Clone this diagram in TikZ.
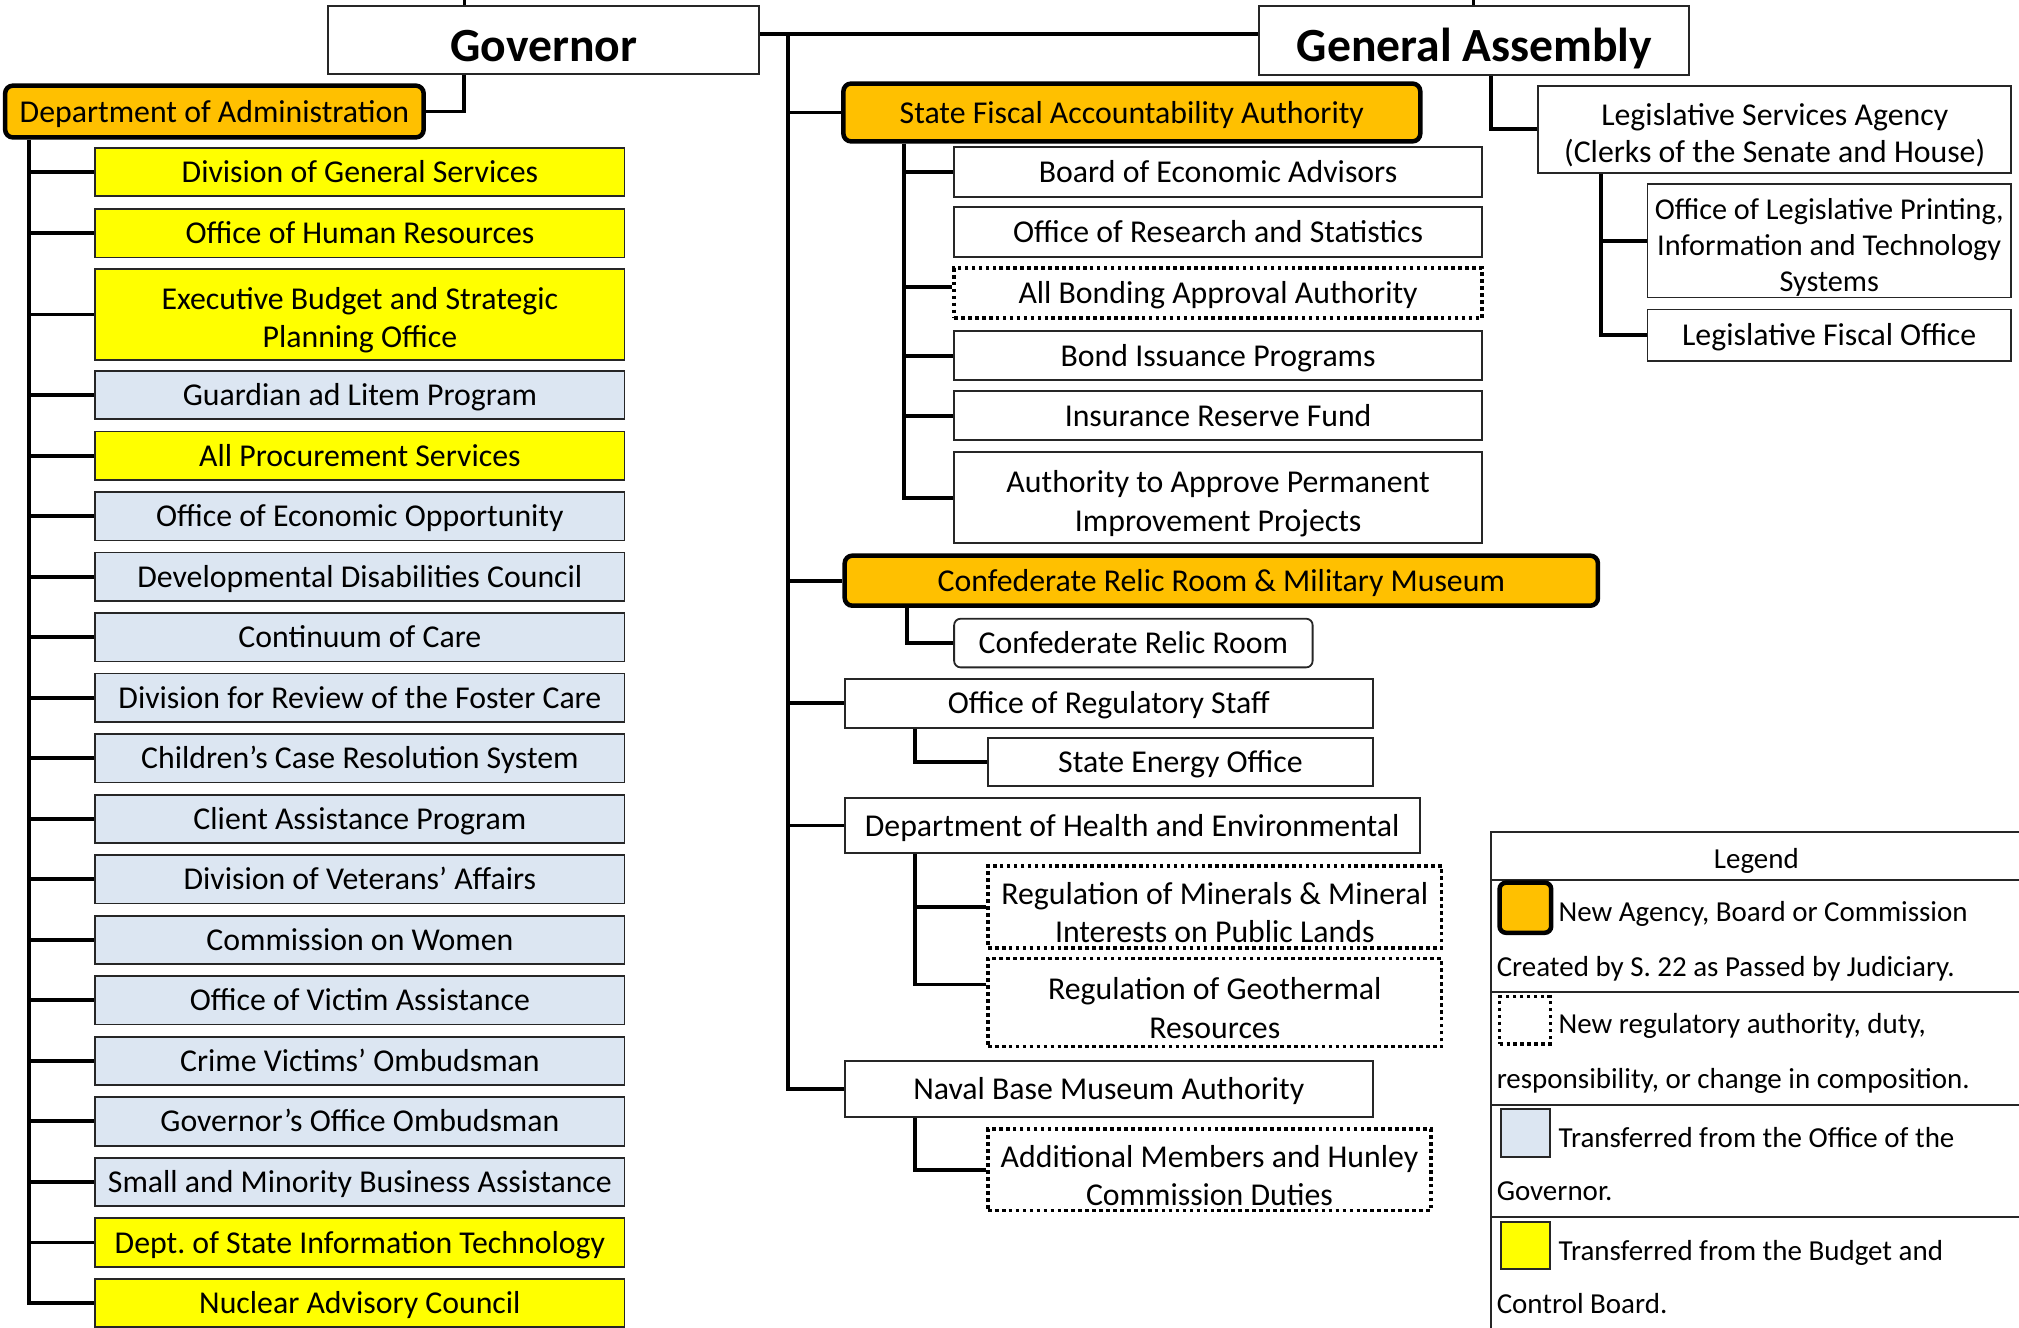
\documentclass[tikz,border=0pt]{standalone}
\usepackage{fontspec}
\setmainfont{Carlito}
\definecolor{org}{HTML}{FFC000}
\definecolor{yel}{HTML}{FFFF00}
\definecolor{blu}{HTML}{DCE6F2}
\newcommand\obox[7]{\node[#6, minimum width={#4-#2}, minimum height={#5-#3}] (#1) at ({(#2+#4)/2},{(#3+#5)/2}) {#7};}
\newcommand\dn{\rule{0pt}{26pt}}
\tikzset{
 box/.style={draw=black!85, line width=1.4pt, inner sep=0pt, align=center, text=black, font=\fontsize{24.7pt}{30pt}\selectfont},
 sl/.style={text height=18pt, text depth=1.6pt},
 newbox/.style={box, draw=black, fill=org, line width=3.5pt, rounded corners=6pt},
 dotbox/.style={box, draw=black, line width=2.8pt, dash pattern=on 2.8pt off 2.6pt},
 ybox/.style={box, fill=yel},
 bbox/.style={box, fill=blu},
 wbox/.style={box, fill=white},
 ttl/.style={box, fill=white, font=\fontsize{37pt}{44pt}\selectfont\bfseries, text height=36pt, text depth=3pt},
 conn/.style={line width=3pt, draw=black},
 stub/.style={line width=2.4pt, draw=black},
 legline/.style={line width=1.5pt, draw=black!85},
 legtxt/.style={anchor=base west, inner sep=0pt, font=\fontsize{22.5pt}{27pt}\selectfont},
}
\begin{document}
\begin{tikzpicture}[x=1pt,y=-1pt]
\useasboundingbox (0,0) rectangle (1568,1031);
% top boxes
\obox{gov}{255}{4.7}{589.6}{57.7}{ttl}{Governor}
\obox{ga}{978}{4.7}{1312}{58.5}{ttl}{General Assembly}
% left column
\obox{doa}{4}{66.5}{329}{106.7}{newbox,sl}{Department of Administration}
\obox{l1}{74}{114.7}{485}{152.5}{ybox,sl}{Division of General Services}
\obox{l2}{74}{162}{485}{200}{ybox,sl}{Office of Human Resources}
\obox{l3}{74}{209.2}{485}{279.3}{ybox}{\dn Executive Budget and Strategic\\Planning Office}
\obox{l4}{74}{288.1}{485}{325.7}{bbox,sl}{Guardian ad Litem Program}
\obox{l5}{74}{335.1}{485}{372.7}{ybox,sl}{All Procurement Services}
\obox{l6}{74}{382.1}{485}{419.7}{bbox,sl}{Office of Economic Opportunity}
\obox{l7}{74}{429.1}{485}{466.7}{bbox,sl}{Developmental Disabilities Council}
\obox{l8}{74}{476.1}{485}{513.7}{bbox,sl}{Continuum of Care}
\obox{l9}{74}{523.1}{485}{560.7}{bbox,sl}{Division for Review of the Foster Care}
\obox{l10}{74}{570.1}{485}{607.7}{bbox,sl}{Children’s Case Resolution System}
\obox{l11}{74}{617.1}{485}{654.7}{bbox,sl}{Client Assistance Program}
\obox{l12}{74}{664.1}{485}{701.7}{bbox,sl}{Division of Veterans’ Affairs}
\obox{l13}{74}{711.1}{485}{748.7}{bbox,sl}{Commission on Women}
\obox{l14}{74}{758.1}{485}{795.7}{bbox,sl}{Office of Victim Assistance}
\obox{l15}{74}{805.1}{485}{842.7}{bbox,sl}{Crime Victims’ Ombudsman}
\obox{l16}{74}{852.1}{485}{889.7}{bbox,sl}{Governor’s Office Ombudsman}
\obox{l17}{74}{899.1}{485}{936.7}{bbox,sl}{Small and Minority Business Assistance}
\obox{l18}{74}{946.1}{485}{983.7}{ybox,sl}{Dept.\ of State Information Technology}
\obox{l19}{74}{993.1}{485}{1030.7}{ybox,sl}{Nuclear Advisory Council}
% middle column
\obox{sfaa}{655}{64.9}{1103}{109.8}{newbox,sl}{State Fiscal Accountability Authority}
\obox{boa}{741}{114.3}{1151}{152.8}{wbox,sl}{Board of Economic Advisors}
\obox{ors}{741}{160.8}{1151}{199.4}{wbox,sl}{Office of Research and Statistics}
\obox{bond}{741}{208.3}{1151}{247.1}{dotbox,sl}{All Bonding Approval Authority}
\obox{bip}{741}{257.3}{1151}{295.1}{wbox,sl}{Bond Issuance Programs}
\obox{irf}{741}{303.7}{1151}{341.9}{wbox,sl}{Insurance Reserve Fund}
\obox{auth}{741}{351.3}{1151}{422}{wbox}{\dn Authority to Approve Permanent\\Improvement Projects}
\obox{crm}{656}{431.5}{1241}{470.4}{newbox,sl}{Confederate Relic Room \& Military Museum}
\obox{crr}{741}{480.5}{1019.4}{518.3}{wbox,sl,rounded corners=5pt}{Confederate Relic Room}
\obox{regs}{656}{527.4}{1066.2}{565.1}{wbox,sl}{Office of Regulatory Staff}
\obox{seo}{767.3}{573.2}{1066.2}{610.6}{wbox,sl}{State Energy Office}
\obox{dhec}{656}{619.7}{1102.6}{662.5}{wbox,sl}{Department of Health and Environmental}
\obox{rmin}{767.3}{672.6}{1119.6}{736}{dotbox}{\dn Regulation of Minerals \& Mineral\\Interests on Public Lands}
\obox{rgeo}{767.3}{744.4}{1119.6}{812.8}{dotbox}{\dn Regulation of Geothermal\\Resources}
\obox{naval}{656}{824}{1066.2}{867.4}{wbox,sl}{Naval Base Museum Authority}
\obox{addm}{767.3}{876.9}{1111.3}{940}{dotbox}{\dn Additional Members and Hunley\\Commission Duties}
% right column
\obox{lsa}{1194.7}{66.8}{1561.8}{134.2}{wbox,font=\fontsize{24.7pt}{29pt}\selectfont}{\dn Legislative Services Agency\\(Clerks of the Senate and House)}
\obox{print}{1279.4}{143.1}{1561.8}{231}{wbox,font=\fontsize{23.5pt}{28pt}\selectfont}{\dn Office of Legislative Printing,\\Information and Technology\\Systems}
\obox{fisc}{1279.4}{240.4}{1561.8}{280.1}{wbox,sl}{Legislative Fiscal Office}
% connectors
\draw[stub] ([xshift=-61.8pt]gov.north) -- ++(0,-6);
\draw[stub] ([xshift=-1pt]ga.north) -- ++(0,-6);
\draw[conn] ([yshift=5pt]gov.east) -- ([yshift=5pt]gov.east -| ga.west);
\draw[conn] ([xshift=-61.8pt]gov.south) |- (doa.east);
\draw[conn] ([xshift=13pt]ga.south) |- (lsa.west);
% left trunk
\coordinate (lt) at ([xshift=20.6pt]doa.south west);
\draw[conn] (lt) |- (l19.west);
\foreach \i in {1,...,18} {\draw[conn] (l\i.west -| lt) -- (l\i.west);}
% middle trunk
\coordinate (mt) at (612,26.2);
\draw[conn] (mt) |- (naval.west);
\foreach \n in {sfaa,crm,regs,dhec} {\draw[conn] (\n.west -| mt) -- (\n.west);}
% SFAA
\coordinate (st) at ([xshift=49pt]sfaa.south west);
\draw[conn] (st) |- (auth.west);
\foreach \n in {boa,bip,irf} {\draw[conn] (\n.west -| st) -- (\n.west);}
\draw[conn] ([yshift=5pt]bond.west -| st) -- ([yshift=5pt]bond.west);
% others
\draw[conn] ([xshift=50.4pt]crm.south west) |- (crr.west);
\draw[conn] ([xshift=55.6pt]regs.south west) |- (seo.west);
\coordinate (dt) at ([xshift=55.6pt]dhec.south west);
\draw[conn] (dt) |- ([yshift=14pt]rgeo.west);
\draw[conn] (rmin.west -| dt) -- (rmin.west);
\draw[conn] ([xshift=55.6pt]naval.south west) |- (addm.west);
% LSA
\coordinate (lst) at ([xshift=49.3pt]lsa.south west);
\draw[conn] (lst) |- (fisc.west);
\draw[conn] (print.west -| lst) -- (print.west);
% legend
\draw[legline] (1570,645.9) -- (1158.2,645.9) -- (1158.2,1035);
\foreach \yy in {683.4,770.7,858.2,945.2} {\draw[legline] (1158.2,\yy) -- (1570,\yy);}
\node[anchor=base, inner sep=0pt, font=\fontsize{22.5pt}{27pt}\selectfont] (legt) at (1364,674.4) {Legend};
\obox{sw1}{1164.6}{685.5}{1204.7}{724.4}{newbox,rounded corners=5pt}{}
\obox{sw2}{1164.6}{774}{1204}{810.8}{dotbox}{}
\obox{sw3}{1165.9}{861.5}{1203.5}{898.3}{bbox}{}
\obox{sw4}{1165.9}{948.8}{1203.5}{985.6}{ybox}{}
\node[legtxt] (t1) at (1210.3,715.8) {New Agency, Board or Commission};
\node[legtxt] (t2) at (1162.2,758) {Created by S. 22 as Passed by Judiciary.};
\node[legtxt] (t3) at (1210.3,802.5) {New regulatory authority, duty,};
\node[legtxt] (t4) at (1162.2,845.3) {responsibility, or change in composition.};
\node[legtxt] (t5) at (1210.3,891.3) {Transferred from the Office of the};
\node[legtxt] (t6) at (1162.2,932.5) {Governor.};
\node[legtxt] (t7) at (1210.3,978.6) {Transferred from the Budget and};
\node[legtxt] (t8) at (1162.2,1020) {Control Board.};
\end{tikzpicture}
\end{document}
